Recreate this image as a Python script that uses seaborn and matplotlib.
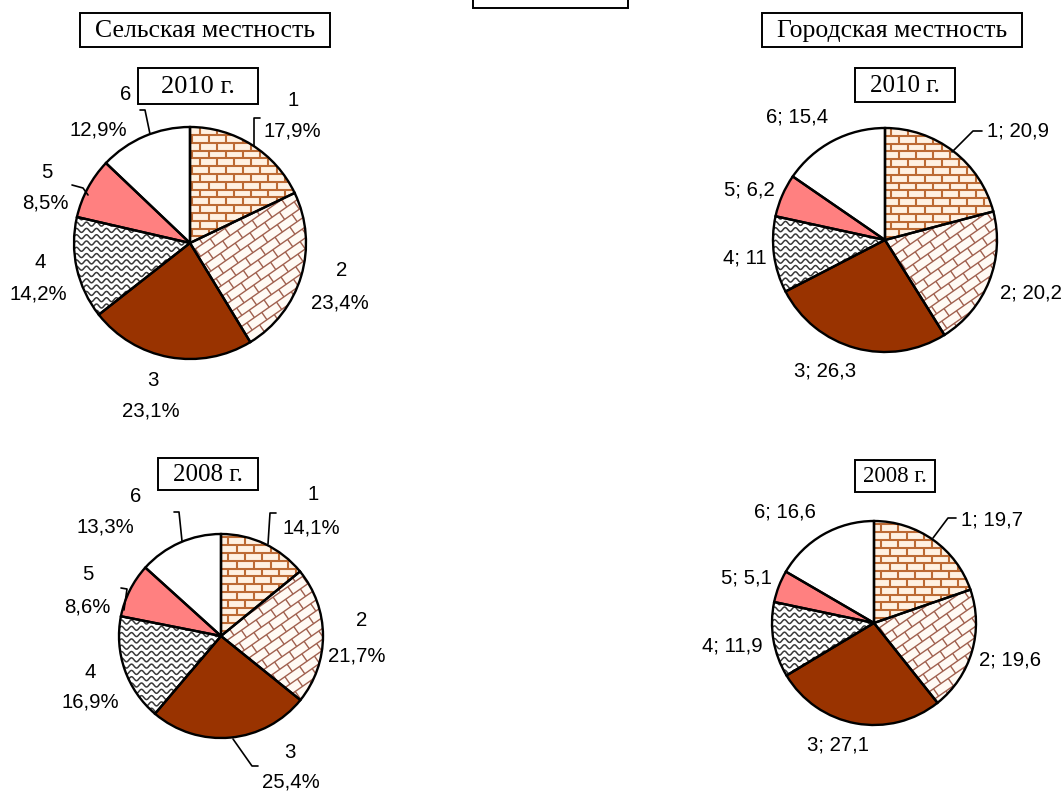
import numpy as np
import matplotlib
matplotlib.use("Agg")
import matplotlib.pyplot as plt
import seaborn as sns
from matplotlib.collections import LineCollection
from matplotlib.patches import Wedge, Rectangle

# ---------------- data ----------------
categories = ["1", "2", "3", "4", "5", "6"]
rural_2010 = [17.9, 23.4, 23.1, 14.2, 8.5, 12.9]
rural_2008 = [14.1, 21.7, 25.4, 16.9, 8.6, 13.3]
urban_2010 = [20.9, 20.2, 26.3, 11.0, 6.2, 15.4]
urban_2008 = [19.7, 19.6, 27.1, 11.9, 5.1, 16.6]
titles = ["Сельская местность", "Городская местность"]
years = ["2010 г.", "2008 г."]

sns.set_theme(style="white")
plt.rcParams['font.family'] = ['Liberation Sans', 'DejaVu Sans']
plt.rcParams['text.color'] = 'black'

W, H = 1063, 792
fig = plt.figure(figsize=(W / 100, H / 100), dpi=100)
ax = fig.add_axes([0, 0, 1, 1])


def Y(y):
    return H - y


def fmt(v):
    s = ("%.1f" % v).replace(".", ",")
    if s.endswith(",0"):
        s = s[:-2]
    return s


face = ["#FFF1E2", "#FFFAF4", "#993300", "white", "#FF8080", "white"]


def brick_segments(x0, x1, y0, y1, h, w):
    segs = []
    rows = int((y1 - y0) / h) + 2
    for k in range(rows):
        yy = y0 + k * h
        segs.append([(x0, yy), (x1, yy)])
        off = (w / 2) * (k % 2)
        xx = x0 + off
        while xx < x1:
            segs.append([(xx, yy), (xx, yy + h)])
            xx += w
    return segs


def rotate(segs, cx, cy, ang):
    a = np.deg2rad(ang)
    c, s = np.cos(a), np.sin(a)
    out = []
    for seg in segs:
        out.append([(cx + (x - cx) * c - (y - cy) * s, cy + (x - cx) * s + (y - cy) * c) for x, y in seg])
    return out


def wave_segments(x0, x1, y0, y1, spacing, period, amp):
    segs = []
    xs = np.arange(x0, x1 + period, period / 12.0)
    off = amp * np.sin(2 * np.pi * (xs - x0) / period)
    yy = y0
    while yy < y1:
        segs.append(list(zip(xs, yy + off)))
        yy += spacing
    return segs


def draw_pie(values, cx, cy, r):
    wedges, _ = ax.pie(values, startangle=90, counterclock=False,
                       center=(cx, Y(cy)), radius=r, frame=True,
                       colors=face,
                       wedgeprops=dict(edgecolor="none", linewidth=0))
    bx0, bx1 = cx - r - 10, cx + r + 10
    by0, by1 = Y(cy) - r - 10, Y(cy) + r + 10
    # slice 1 : brick
    lc = LineCollection(brick_segments(bx0, bx1, by0, by1, 7.8, 17),
                        colors="#BC6A34", linewidths=1.5, zorder=2)
    ax.add_collection(lc)
    lc.set_clip_path(wedges[0])
    # slice 2 : diagonal brick
    segs = rotate(brick_segments(bx0 - r, bx1 + r, by0 - r, by1 + r, 9, 18), cx, Y(cy), 35)
    lc = LineCollection(segs, colors="#A0604E", linewidths=1.0, zorder=2)
    ax.add_collection(lc)
    lc.set_clip_path(wedges[1])
    # slice 4 : waves
    lc = LineCollection(wave_segments(bx0, bx1, by0, by1, 6.3, 10.0, 2.0),
                        colors="#3a3a3a", linewidths=1.1, zorder=2)
    ax.add_collection(lc)
    lc.set_clip_path(wedges[3])
    for w in wedges:
        ax.add_patch(Wedge(w.center, w.r, w.theta1, w.theta2, fill=False,
                           ec="black", lw=1.7, zorder=4))


def box(x0, y0, x1, y1, text=None, fs=19):
    ax.add_patch(Rectangle((x0, Y(y1)), x1 - x0, y1 - y0, fill=True, fc="white",
                           ec="black", lw=1.4, zorder=5))
    if text:
        ax.text((x0 + x1) / 2, Y((y0 + y1) / 2) - 1, text, ha="center", va="center",
                fontsize=fs, color="black",
                family=["Liberation Serif", "DejaVu Serif"], zorder=6)


def lab(x, y, s, ha="center"):
    ax.text(x, Y(y), s, ha=ha, va="center", fontsize=14.7, color="black", zorder=6)


def line(pts):
    ax.plot([p[0] for p in pts], [Y(p[1]) for p in pts], color="black", lw=1.2, zorder=6)


# ---- pies ----
draw_pie(rural_2010, 190, 243, 116)
draw_pie(urban_2010, 885, 240, 112)
draw_pie(rural_2008, 221, 636, 102)
draw_pie(urban_2008, 874, 623, 102)

# ---- boxes ----
box(473, -30, 628, 8)
box(80, 13, 330, 47, titles[0], 18.5)
box(762, 13, 1022, 47, titles[1], 18.5)
box(138, 68, 258, 104, years[0], 19)
box(855, 68, 955, 102, years[0], 18)
box(158, 458, 258, 490, years[1], 18)
box(855, 460, 935, 492, years[1], 16.5)

# ---- rural 2010 labels ----
r10pos = [(293, 101, 292, 131), (342, 270, 340, 303), (153, 380, 151, 411),
          (40, 262, 38, 294), (47, 172, 45, 203), (126, 95, 98, 130)]
for c, v, p in zip(categories, rural_2010, r10pos):
    lab(p[0], p[1], c)
    lab(p[2], p[3], fmt(v) + "%")
line([(260, 118), (254, 118), (254, 146)])
line([(140, 110), (145, 110), (150, 134)])
line([(72, 185), (83, 188), (88, 195)])

# ---- rural 2008 labels ----
r08pos = [(313, 495, 311, 528), (362, 620, 357, 656), (290, 752, 291, 782),
          (90, 672, 90, 702), (88, 575, 87, 607), (136, 497, 105, 527)]
for c, v, p in zip(categories, rural_2008, r08pos):
    lab(p[0], p[1], c)
    lab(p[2], p[3], fmt(v) + "%")
line([(276, 513), (270, 513), (268, 544)])
line([(174, 512), (179, 512), (182, 541)])
line([(121, 588), (127, 589), (124, 610)])
line([(233, 739), (252, 766), (258, 766)])

# ---- urban 2010 labels ----
u10pos = [(1018, 131), (1031, 293), (825, 371), (745, 258), (749, 190), (797, 117)]
for c, v, p in zip(categories, urban_2010, u10pos):
    lab(p[0], p[1], c + "; " + fmt(v))
line([(982, 131), (973, 131), (952, 152)])

# ---- urban 2008 labels ----
u08pos = [(992, 520), (1010, 660), (838, 745), (732, 646), (746, 578), (785, 512)]
for c, v, p in zip(categories, urban_2008, u08pos):
    lab(p[0], p[1], c + "; " + fmt(v))
line([(956, 518), (948, 518), (933, 538)])

ax.set_xlim(0, W)
ax.set_ylim(0, H)
ax.set_aspect("auto")
ax.axis("off")
fig.savefig("out.png", dpi=100, facecolor="white")
